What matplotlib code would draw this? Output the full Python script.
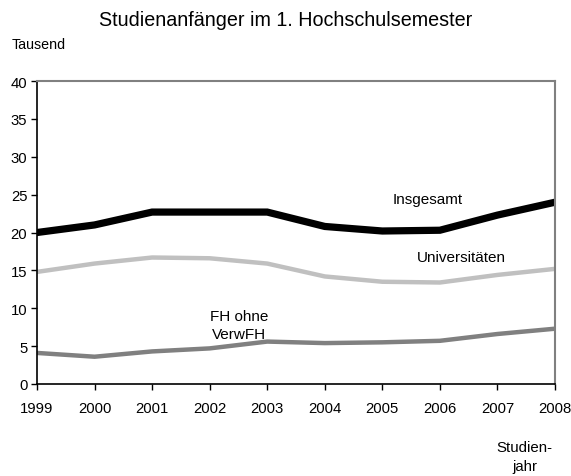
import matplotlib
matplotlib.use("Agg")
import matplotlib.pyplot as plt

plt.rcParams['font.family'] = ['Liberation Sans', 'DejaVu Sans']

years = [1999, 2000, 2001, 2002, 2003, 2004, 2005, 2006, 2007, 2008]
insgesamt = [20.0, 21.0, 22.7, 22.7, 22.7, 20.8, 20.2, 20.3, 22.3, 24.0]
universitaeten = [14.8, 15.9, 16.7, 16.6, 15.9, 14.2, 13.5, 13.4, 14.4, 15.2]
fh_ohne_verwfh = [4.1, 3.6, 4.3, 4.7, 5.6, 5.4, 5.5, 5.7, 6.6, 7.3]

fig = plt.figure(figsize=(5.71, 4.77), dpi=100)
ax = fig.add_axes([0.0648, 0.1929, 0.9072, 0.6351])

ax.plot(years, fh_ohne_verwfh, color='#808080', lw=3.2, solid_joinstyle='miter')
ax.plot(years, universitaeten, color='#c0c0c0', lw=3.2, solid_joinstyle='miter')
ax.plot(years, insgesamt, color='black', lw=5.2, solid_joinstyle='miter')

ax.set_xlim(1999, 2008)
ax.set_ylim(0, 40)
ax.set_xticks(years)
ax.set_yticks(range(0, 41, 5))
ax.tick_params(direction='out', length=4, width=1, labelsize=10.7, pad=3)
ax.tick_params(axis='x', pad=8)
for s in ['left', 'bottom']:
    ax.spines[s].set_color('black')
    ax.spines[s].set_linewidth(1.2)
for s in ['top', 'right']:
    ax.spines[s].set_color('#808080')
    ax.spines[s].set_linewidth(1.5)

ax.text(2005.79, 24.4, 'Insgesamt', fontsize=11, ha='center', va='center')
ax.text(2006.37, 16.8, 'Universitäten', fontsize=11, ha='center', va='center')
ax.text(2002.51, 7.8, 'FH ohne\nVerwFH', fontsize=11, ha='center', va='center',
        linespacing=1.3)

fig.text(0.501, 0.958, 'Studienanfänger im 1. Hochschulsemester', fontsize=14.2,
         ha='center', va='center')
fig.text(0.021, 0.906, 'Tausend', fontsize=10.3, ha='left', va='center')
fig.text(0.919, 0.04, 'Studien-\njahr', fontsize=10.8, ha='center', va='center',
         linespacing=1.45)

fig.savefig('out.png', dpi=100)
